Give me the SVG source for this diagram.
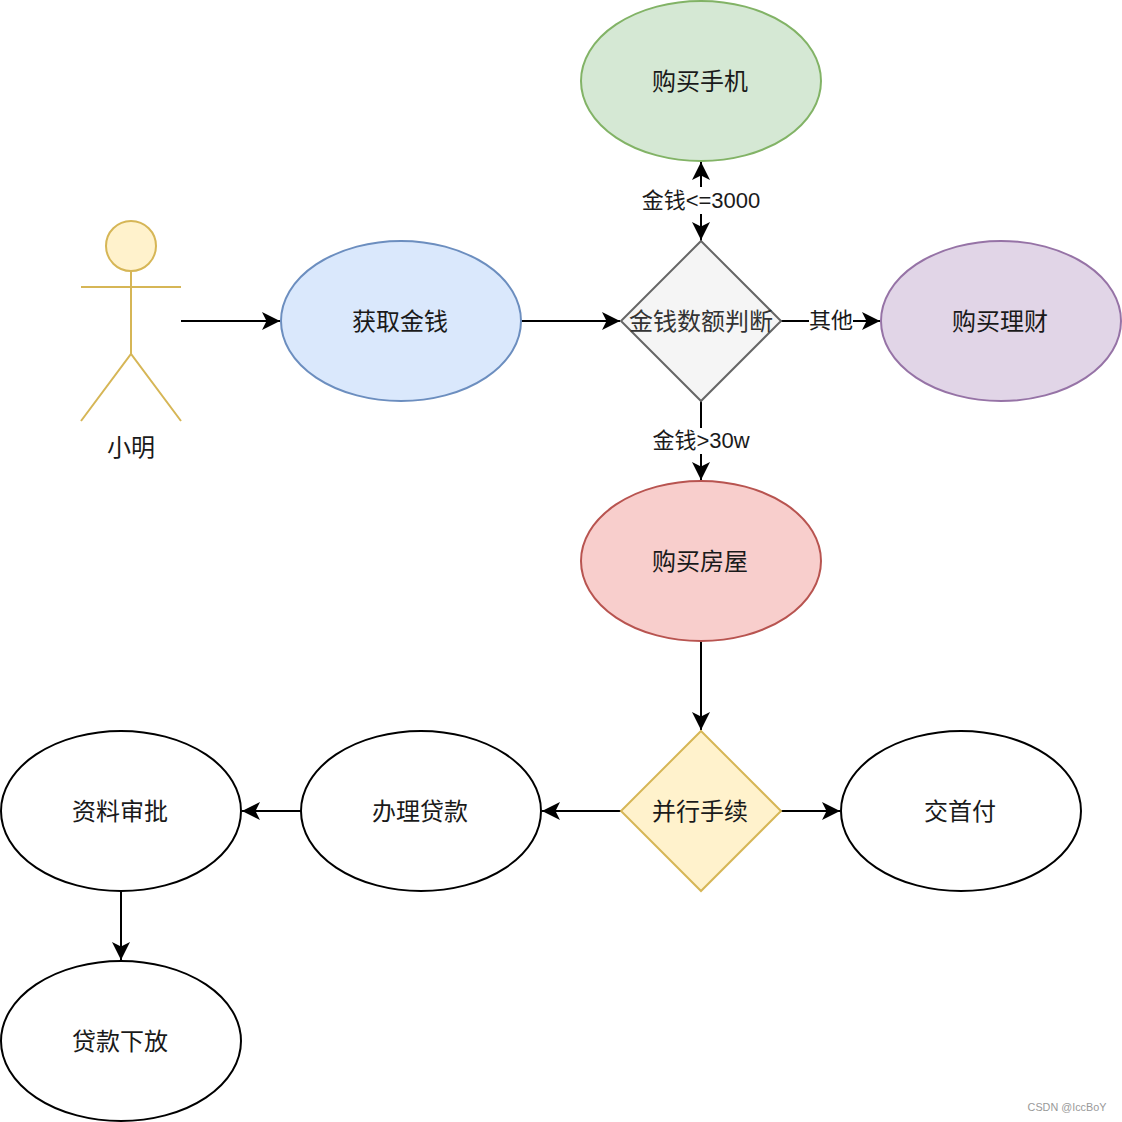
<svg xmlns="http://www.w3.org/2000/svg" width="1122" height="1122" viewBox="0 0 1122 1122">
<style>
text{font-family:"Noto Sans CJK SC","Liberation Sans",sans-serif;font-size:24px;fill:#1a1a1a;text-anchor:middle;dominant-baseline:central}
.l{font-family:"Liberation Sans","Noto Sans CJK SC",sans-serif;font-size:22px}
.w{font-family:"Liberation Sans","Noto Sans CJK SC",sans-serif;font-size:10.8px;fill:#999}
.c path{fill:none;stroke:#000;stroke-width:2}
ellipse,polygon.n{stroke-width:2}
</style>
<defs><marker id="a" markerUnits="userSpaceOnUse" markerWidth="20" markerHeight="20" refX="18" refY="9" orient="auto"><path d="M0 0L18 9L0 18L4.500 9Z" fill="#000"/></marker></defs>
<rect width="1122" height="1122" fill="#fff"/>
<g class="c" id="connectors">
<path d="M181 321H280" marker-end="url(#a)"/>
<path d="M521 321H620" marker-end="url(#a)"/>
<path d="M701 241V162" marker-end="url(#a)"/>
<path d="M701 162V240" marker-end="url(#a)"/>
<path d="M781 321H880" marker-end="url(#a)"/>
<path d="M701 401V480" marker-end="url(#a)"/>
<path d="M701 641V730" marker-end="url(#a)"/>
<path d="M621 811H542" marker-end="url(#a)"/>
<path d="M781 811H840" marker-end="url(#a)"/>
<path d="M301 811H242" marker-end="url(#a)"/>
<path d="M121 891V960" marker-end="url(#a)"/>
</g>
<g id="actor" fill="none" stroke="#d6b656" stroke-width="2">
<circle cx="131" cy="246" r="25" fill="#fff2cc"/>
<path d="M131 271V354M81 287H181M81 421L131 354L181 421"/>
<text x="131" y="445" stroke="none">小明</text>
</g>
<g id="n1"><ellipse cx="401" cy="321" rx="120" ry="80" fill="#dae8fc" stroke="#6c8ebf"/><text x="400" y="319">获取金钱</text></g>
<g id="n2"><polygon class="n" points="701,241 781,321 701,401 621,321" fill="#f5f5f5" stroke="#666"/><text x="701" y="319" style="fill:#333">金钱数额判断</text></g>
<g id="n3"><ellipse cx="701" cy="81" rx="120" ry="80" fill="#d5e8d4" stroke="#82b366"/><text x="700" y="79">购买手机</text></g>
<g id="n4"><ellipse cx="1001" cy="321" rx="120" ry="80" fill="#e1d5e7" stroke="#9673a6"/><text x="1000" y="319">购买理财</text></g>
<g id="n5"><ellipse cx="701" cy="561" rx="120" ry="80" fill="#f8cecc" stroke="#b85450"/><text x="700" y="559">购买房屋</text></g>
<g id="n6"><polygon class="n" points="701,731 781,811 701,891 621,811" fill="#fff2cc" stroke="#d6b656"/><text x="700" y="809">并行手续</text></g>
<g id="n7"><ellipse cx="421" cy="811" rx="120" ry="80" fill="#fff" stroke="#000"/><text x="420" y="809">办理贷款</text></g>
<g id="n8"><ellipse cx="961" cy="811" rx="120" ry="80" fill="#fff" stroke="#000"/><text x="960" y="809">交首付</text></g>
<g id="n9"><ellipse cx="121" cy="811" rx="120" ry="80" fill="#fff" stroke="#000"/><text x="120" y="809">资料审批</text></g>
<g id="n10"><ellipse cx="121" cy="1041" rx="120" ry="80" fill="#fff" stroke="#000"/><text x="120" y="1039">贷款下放</text></g>
<g id="labels">
<rect x="641" y="187" width="120" height="27" fill="#fff"/><text class="l" x="701" y="200">金钱&lt;=3000</text>
<rect x="809" y="308" width="44" height="26" fill="#fff"/><text class="l" x="831" y="320">其他</text>
<rect x="652" y="428" width="98" height="26" fill="#fff"/><text class="l" x="701" y="440">金钱&gt;30w</text>
</g>
<text class="w" x="1067" y="1107">CSDN @IccBoY</text>
</svg>
